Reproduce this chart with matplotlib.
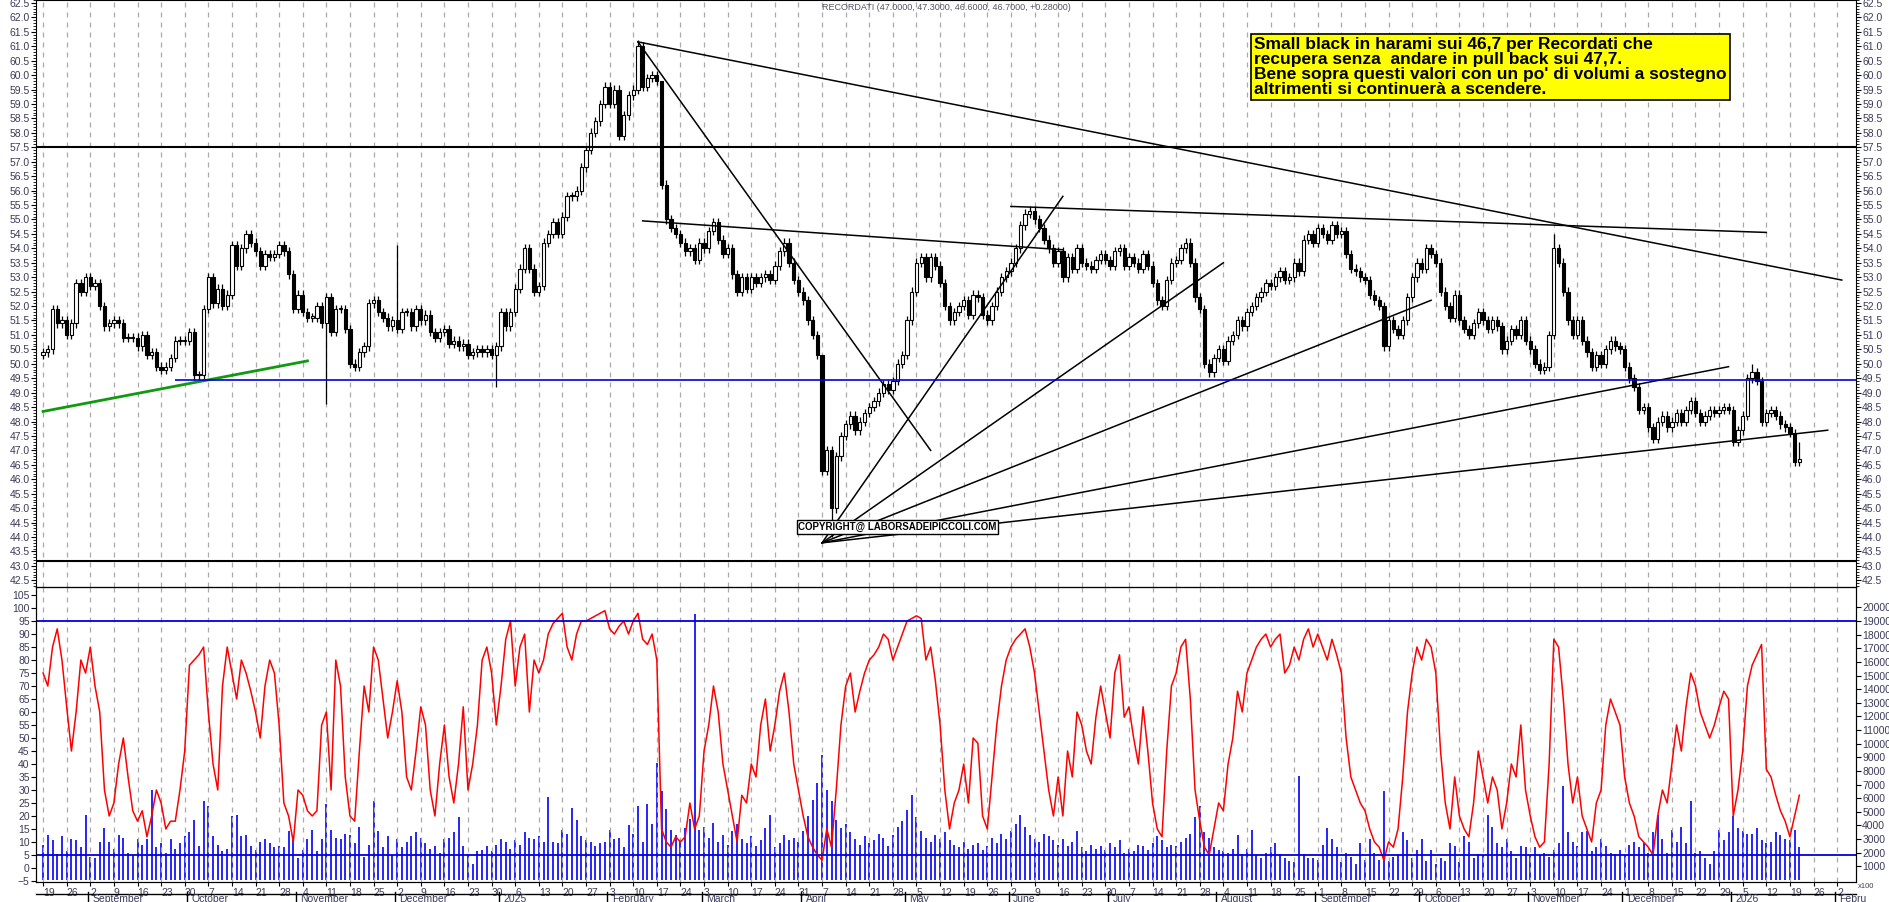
import numpy as np
import pandas as pd
import matplotlib
matplotlib.use('Agg')
import matplotlib.pyplot as plt
from matplotlib.transforms import blended_transform_factory
from matplotlib.ticker import MultipleLocator, FormatStrFormatter

plt.rcParams['font.family'] = ['Liberation Sans', 'DejaVu Sans']

# --- data: daily closes from 2024-08-19 (trading days) ---
closes = [
    50.4, 50.5, 51.9, 51.4, 51.5, 51.0, 51.4, 52.8, 52.5, 53.0,
    52.7, 52.8, 52.0, 51.3, 51.4, 51.5, 51.4, 50.9, 50.9, 50.9,
    50.6, 51.0, 50.3, 50.4, 49.9, 49.8, 49.9, 50.2, 50.8, 50.8,
    50.8, 51.1, 49.6, 49.6, 51.9, 53.0, 52.1, 52.6, 52.0, 52.4,
    54.1, 53.4, 54.0, 54.5, 54.2, 53.9, 53.4, 53.8, 53.7, 53.8,
    54.1, 53.9, 53.1, 51.9, 52.4, 51.8, 51.6, 51.6, 52.0, 51.4,
    52.3, 51.1, 51.9, 51.9, 51.2, 50.0, 49.9, 50.4, 50.6, 52.1,
    52.2, 51.8, 51.6, 51.3, 51.5, 51.2, 51.8, 51.8, 51.3, 51.9,
    51.5, 51.7, 51.1, 50.9, 51.1, 51.2, 50.7, 50.8, 50.6, 50.7,
    50.3, 50.4, 50.5, 50.4, 50.5, 50.3, 50.6, 51.8, 51.3, 51.8,
    52.6, 53.3, 54.0, 53.3, 52.5, 52.7, 54.2, 54.5, 54.9, 54.5,
    55.1, 55.8, 55.8, 56.0, 56.8,
    # 2025-01-27 onwards, one row per week
    57.4, 58.0, 58.4, 59.0, 59.6,
    59.0, 59.5, 57.9, 58.6, 59.3,
    59.5, 61.0, 59.6, 59.9, 60.0,
    59.8, 56.2, 55.0, 54.7, 54.5,
    54.2, 53.9, 54.0, 53.6, 54.2,
    54.0, 54.6, 54.9, 54.3, 53.8,
    54.0, 53.1, 52.5, 53.0, 52.6,
    53.0, 52.8, 53.0, 53.1, 52.9,
    53.4, 53.9, 54.2, 53.5, 52.9,
    52.5, 52.2, 51.5, 51.0, 50.3,
    46.3, 47.0, 45.0, 46.8, 47.5,
    47.9, 48.2, 47.7, 48.0, 48.3,
    48.5, 48.7, 49.0, 49.3, 49.1,
    49.4, 50.0, 50.3, 51.5, 52.5,
    53.5, 53.7, 53.0, 53.7, 53.4,
    52.8, 52.0, 51.5, 51.8, 52.0,
    52.2, 51.7, 52.4, 52.3, 51.7,
    51.5, 52.0, 52.5, 53.0, 53.2,
    53.5, 54.0, 54.8, 55.2, 55.3,
    55.0, 54.7, 54.3, 54.0, 53.5,
    53.9, 53.0, 53.7, 53.3, 54.0,
    53.5, 53.4, 53.3, 53.6, 53.8,
    53.6, 53.4, 53.9, 54.0, 53.4,
    53.7, 53.5, 53.3, 53.8, 53.4,
    52.8, 52.2, 52.0, 52.9, 53.5,
    53.6, 54.0, 54.2, 53.5, 52.3,
    51.9, 50.0, 49.7, 50.2, 50.5,
    50.1, 50.8, 51.0, 51.5, 51.3,
    51.8, 52.0, 52.3, 52.5, 52.8,
    52.7, 53.0, 53.2, 52.9, 53.0,
    53.5, 53.2, 54.3, 54.5, 54.2,
    54.7, 54.5, 54.3, 54.8, 54.5,
    54.6, 53.8, 53.3, 53.2, 53.0,
    52.9, 52.4, 52.2, 52.0, 50.6,
    51.5, 51.2, 51.0, 51.5, 52.3,
    53.0, 53.5, 53.3, 54.0, 53.8,
    53.5, 52.5, 52.0, 51.6, 52.4,
    51.5, 51.2, 51.0, 51.4, 51.8,
    51.5, 51.2, 51.5, 51.3, 50.5,
    50.8, 51.2, 51.0, 51.5, 50.8,
    50.5, 50.0, 49.8, 49.9, 51.0,
    54.0, 53.5, 52.5, 51.5, 51.0,
    51.5, 50.8, 50.4, 49.9, 50.3,
    50.0, 50.5, 50.8, 50.6, 50.5,
    49.9, 49.5, 49.2, 48.4, 48.5,
    47.8, 47.4, 48.0, 48.2, 47.8,
    48.0, 48.3, 48.0, 48.4, 48.7,
    48.3, 48.0, 48.2, 48.4, 48.3,
    48.4, 48.5, 48.4, 47.3, 47.7,
    48.2, 49.5, 49.7, 49.4, 48.0,
    48.3, 48.4, 48.2, 47.9, 47.8,
    47.6, 46.6, 46.7,
]
first_open = 50.3
# long shadows: (date, kind, price)
shadows = [
    ('2024-11-11', 'low', 48.6), ('2024-12-02', 'high', 54.1), ('2024-12-31', 'low', 49.2),
    ('2025-02-11', 'high', 61.2), ('2025-02-18', 'high', 57.1), ('2025-04-09', 'low', 44.0),
    ('2025-04-07', 'high', 49.6), ('2025-11-10', 'high', 54.5), ('2026-01-07', 'high', 50.0),
    ('2026-01-21', 'high', 47.3),
]

osc = [
    75, 70, 85, 92, 80,  62, 45, 60, 80, 75,  85, 70, 60, 30, 20,  25, 40, 50, 35, 22,
    18, 22, 12, 20, 30,  25, 15, 18, 18, 30,  45, 78, 80, 82, 85,  60, 40, 30, 70, 85,
    75, 65, 80, 75, 68,  60, 50, 70, 80, 75,  55, 25, 20, 10, 30,  28, 22, 20, 22, 55,
    60, 30, 80, 70, 35,  20, 18, 45, 70, 60,  85, 80, 65, 50, 60,  72, 60, 35, 30, 45,
    62, 55, 30, 20, 40,  55, 35, 25, 40, 62,  30, 40, 55, 80, 85,  75, 55, 70, 88, 95,
    70, 85, 90, 60, 80,  75, 80, 90, 94, 96,  98, 85, 80, 90, 95,  95, 96, 97, 98, 99,
    92, 90, 93, 95, 90,  95, 98, 88, 86, 90,  80, 15, 10, 8, 12,  10, 12, 25, 15, 20,
    45, 55, 70, 60, 40,  30, 20, 10, 28, 25,  40, 35, 55, 65, 45,  55, 68, 75, 60, 40,
    30, 20, 12, 8, 5,  3, 15, 8, 30, 55,  70, 75, 60, 68, 75,  80, 82, 85, 90, 88,
    80, 85, 90, 95, 96,  97, 96, 80, 85, 72,  55, 30, 15, 25, 30,  40, 25, 50, 48, 20,
    15, 35, 55, 70, 80,  85, 88, 90, 92, 85,  75, 60, 45, 30, 20,  35, 20, 45, 35, 60,
    55, 45, 40, 58, 70,  60, 50, 75, 82, 58,  62, 50, 40, 62, 45,  25, 15, 12, 45, 70,
    75, 85, 88, 65, 30,  18, 8, 5, 15, 25,  22, 40, 50, 68, 60,  75, 80, 85, 88, 90,
    85, 88, 90, 75, 78,  85, 80, 88, 92, 85,  90, 85, 80, 88, 82,  75, 50, 35, 30, 25,
    22, 15, 10, 8, 3,  10, 8, 15, 35, 60,  75, 85, 80, 88, 85,  75, 45, 25, 15, 35,
    20, 15, 12, 25, 45,  35, 25, 35, 30, 15,  25, 40, 35, 55, 30,  20, 12, 8, 10, 40,
    88, 85, 65, 40, 25,  35, 20, 15, 10, 25,  30, 55, 65, 60, 55,  35, 25, 20, 12, 10,
    8, 5, 20, 30, 25,  40, 55, 45, 62, 75,  70, 60, 55, 50, 55,  62, 68, 65, 20, 30,
    45, 70, 78, 82, 86,  38, 35, 28, 22, 18,  12, 20, 28,
]

volume = [
    2600, 3300, 2900, 1900, 3200,  2100, 3000, 2900, 2400, 4800,  1700, 1600, 2800, 3800, 2800,
    2300, 3300, 3100, 2000, 1800,  3000, 2600, 3000, 6600, 2400,  2700, 2000, 3000, 2300, 2700,
    3200, 3500, 4400, 2500, 5800,  5400, 3200, 2600, 2100, 2300,  4700, 4800, 3200, 3300, 2500,
    2200, 2800, 3000, 2700, 2400,  2500, 2400, 3600, 2900, 1600,  2200, 3000, 3700, 2100, 3000,
    5600, 3700, 3100, 3000, 3400,  3300, 2700, 3900, 1700, 2600,  5800, 3600, 2400, 3200, 1800,
    3000, 2400, 2800, 3200, 3500,  3100, 2700, 2300, 2500, 2000,  3000, 3100, 3500, 4600, 2500,
    1900, 1200, 2100, 2200, 2500,  2100, 2600, 3000, 2800, 2300,  2900, 2600, 3500, 3100, 3000,
    3200, 2800, 6100, 2800, 2700,  3700, 3400, 5300, 4400, 3200,  2900, 2800, 2500, 2700, 2800,
    3700, 3000, 3100, 2400, 4000,  3400, 5400, 2800, 5600, 4100,  8600, 6500, 5200, 3700, 3300,
    2900, 3800, 4500, 19500, 3700,  3900, 3100, 4200, 2800, 3300,  2600, 3600, 4100, 3000, 2700,
    3200, 2500, 2900, 3800, 4800,  2400, 2700, 3300, 2900, 3100,  2800, 3600, 4700, 5900, 7100,
    9200, 6600, 5800, 4400, 3800,  4100, 3500, 3000, 2600, 3200,  2700, 2900, 3400, 3100, 2500,
    3300, 3900, 4300, 5100, 6200,  4600, 3600, 3100, 2800, 3300,  3000, 3500, 2900, 2600, 2400,
    2800, 2300, 2600, 2700, 2200,  2500, 3100, 2700, 3400, 3000,  3600, 4100, 4800, 3900, 3300,
    3000, 2800, 3400, 3200, 2900,  2600, 3000, 2500, 2800, 3600,  2400, 2100, 2600, 2300, 2500,
    2200, 2700, 2400, 2900, 2000,  2300, 2100, 2600, 2500, 2200,  2700, 3200, 2900, 2400, 2600,
    2500, 2800, 3100, 3400, 4600,  5400, 3500, 3100, 2400, 2200,  2100, 2000, 2300, 3300, 1900,
    2300, 3700, 1800, 1600, 2000,  2400, 2700, 1900, 1600, 1400,  1300, 7600, 1900, 1600, 1600,
    1500, 2600, 3800, 3000, 2400,  1300, 2000, 1700, 1200, 2700,  1500, 3000, 2000, 1500, 6500,
    1400, 1700, 1800, 3500, 2900,  1600, 2200, 3000, 1400, 2200,  1200, 1600, 1400, 2700, 2500,
    1300, 3200, 2800, 1600, 1900,  1800, 4800, 3900, 2700, 2400,  3000, 2100, 1600, 2500, 2400,
    1800, 2400, 1800, 2000, 1700,  2200, 2700, 6900, 3500, 2800,  2500, 3500, 3600, 2100, 2400,
    3000, 2500, 2000, 1900, 2200,  1800, 2600, 2800, 2400, 2700,  2000, 3500, 4800, 3000, 2000,
    3700, 2800, 3900, 2700, 5800,  2000, 2100, 1600, 1200, 2100,  3700, 2900, 3500, 4700, 3800,
    3600, 3400, 3400, 3800, 2900,  2700, 2800, 3500, 3300, 3000,  2900, 3700, 2400,
]

# analyst drawings: (date1, price1, date2, price2)
trend_lines = [
    ('2025-02-11', 61.15, '2026-02-03', 52.9),
    ('2025-02-11', 61.15, '2025-05-08', 47.0),
    ('2025-02-12', 54.95, '2025-06-17', 53.95),
    ('2025-06-02', 55.45, '2026-01-12', 54.55),
    ('2025-04-07', 43.8, '2025-06-17', 55.8),
    ('2025-04-07', 43.8, '2025-08-04', 53.5),
    ('2025-04-07', 43.8, '2025-10-03', 52.2),
    ('2025-04-07', 43.8, '2025-12-31', 49.9),
    ('2025-04-07', 43.8, '2026-01-29', 47.7),
]
green_line = ('2024-08-19', 48.35, '2024-11-05', 50.1)
support_level = ('2024-09-26', 49.45)
levels = [57.5, 43.17]

note = ("Small black in harami sui 46,7 per Recordati che\n"
        "recupera senza  andare in pull back sui 47,7.\n"
        "Bene sopra questi valori con un po' di volumi a sostegno\n"
        "altrimenti si continuerà a scendere.")

# --- build ---
all_days = pd.bdate_range('2024-08-19', '2026-02-20')
pos = lambda d: all_days.get_loc(pd.Timestamp(d))
N = len(closes)
x = np.arange(N)
c = np.array(closes)
o = np.concatenate([[first_open], c[:-1]])
hi = np.maximum(o, c) + 0.15
lo = np.minimum(o, c) - 0.15
for d, kind, p in shadows:
    i = pos(d)
    if kind == 'low':
        lo[i] = p
    else:
        hi[i] = p

XMIN, XMAX = -1.5, 384
LC = '#3a3a5a'
fig = plt.figure(figsize=(18.9, 9.02), dpi=100)
ax = fig.add_axes([36 / 1890, 1 - 587 / 902, 1820 / 1890, 587 / 902])
ax2 = fig.add_axes([36 / 1890, 20 / 902, 1820 / 1890, 295 / 902])
axv = ax2.twinx()

mondays = [pos(d) for d in all_days[all_days.weekday == 0] if pos(d) <= XMAX]
for a in (ax, ax2):
    a.set_xlim(XMIN, XMAX)
    a.set_xticks(mondays)
    a.grid(axis='x', color='#aaaaaa', linestyle=(0, (4, 4)), lw=0.9)
    a.set_axisbelow(True)

# candles
up = c >= o
body = np.maximum(np.abs(c - o), 0.04)
ax.vlines(x, lo, hi, color='black', lw=0.9, zorder=2)
ax.bar(x[up], body[up], bottom=o[up], width=0.7, facecolor='white', edgecolor='black', lw=0.8, zorder=3)
ax.bar(x[~up], body[~up], bottom=c[~up], width=0.7, facecolor='black', edgecolor='black', lw=0.8, zorder=3)

for d1, p1, d2, p2 in trend_lines:
    ax.plot([pos(d1), pos(d2)], [p1, p2], color='black', lw=1.1, zorder=4)
ax.plot([pos(green_line[0]), pos(green_line[2])], [green_line[1], green_line[3]], color='#119911', lw=2, zorder=4)
ax.hlines(support_level[1], pos(support_level[0]), XMAX, color='#0000dd', lw=1.2, zorder=4)
for lv in levels:
    ax.axhline(lv, color='black', lw=1.5, zorder=4)

ax.set_ylim(42.27, 62.6)
ax.yaxis.set_major_locator(MultipleLocator(0.5))
ax.yaxis.set_minor_locator(MultipleLocator(0.1))
ax.yaxis.set_major_formatter(FormatStrFormatter('%.1f'))
ax.tick_params(axis='y', which='both', left=True, right=True, labelleft=True, labelright=True,
               labelsize=7.5, labelcolor=LC, direction='out', pad=1)
ax.tick_params(axis='y', which='minor', length=2)
ax.tick_params(axis='x', labelbottom=False, length=0)

# oscillator + volume
axv.vlines(x, 0, volume, color='blue', lw=1.2)
axv.set_ylim(-150, 21500)
axv.set_yticks(np.arange(1000, 20001, 1000))
axv.tick_params(axis='y', labelsize=7.5, labelcolor=LC, pad=1)
ax2.set_zorder(axv.get_zorder() + 1)
ax2.patch.set_visible(False)
ax2.plot(x, osc, color='red', lw=1.1)
for lv in (95, 5):
    ax2.axhline(lv, color='#0000dd', lw=1.3)
ax2.set_ylim(-5.4, 108.1)
ax2.set_yticks(np.arange(-5, 106, 5))
ax2.tick_params(axis='y', labelsize=7.5, labelcolor=LC, pad=1)
ax2.set_xticklabels([str(all_days[i].day) for i in mondays])
ax2.tick_params(axis='x', labelsize=7.5, labelcolor=LC, pad=1, length=3)
for lab in ax2.get_xticklabels():
    lab.set_horizontalalignment('left')
fig.text(1858 / 1890, 1 - 886 / 902, 'x100', fontsize=5.5, color=LC, va='center')

tr = blended_transform_factory(ax2.transData, ax2.transAxes)
months = all_days[(all_days.to_series().dt.month.diff() != 0).values][1:]
for d in months:
    i = pos(d)
    if i > XMAX:
        continue
    name = str(d.year) if d.month == 1 else d.strftime('%B')
    if i + 12 > XMAX:
        name = name[:5]
    ax2.plot([i - 0.5, i - 0.5], [-0.035, -0.075], transform=tr, color='black', lw=1, clip_on=False)
    ax2.text(i + 0.5, -0.058, name, transform=tr, fontsize=7.5, color=LC, va='center', ha='left')
ax2.plot([XMIN, XMAX], [-0.04, -0.04], transform=tr, color='black', lw=1, clip_on=False)

fig.text(946 / 1890, 1 - 8 / 902, 'RECORDATI (47.0000, 47.3000, 46.6000, 46.7000, +0.28000)',
         fontsize=6.5, color='#555566', ha='center', va='center')
fig.text(1254 / 1890, 1 - 37 / 902, note, fontsize=12.5, fontweight='bold', va='top', ha='left',
         linespacing=1.0, bbox=dict(boxstyle='square,pad=0.2', facecolor='yellow', edgecolor='black', lw=1.2))
fig.text(798 / 1890, 1 - 527 / 902, 'COPYRIGHT@ LABORSADEIPICCOLI.COM', fontsize=7, fontweight='bold',
         va='center', ha='left', bbox=dict(boxstyle='square,pad=0.15', facecolor='white', edgecolor='black', lw=1))

fig.savefig('out.png', dpi=100)
